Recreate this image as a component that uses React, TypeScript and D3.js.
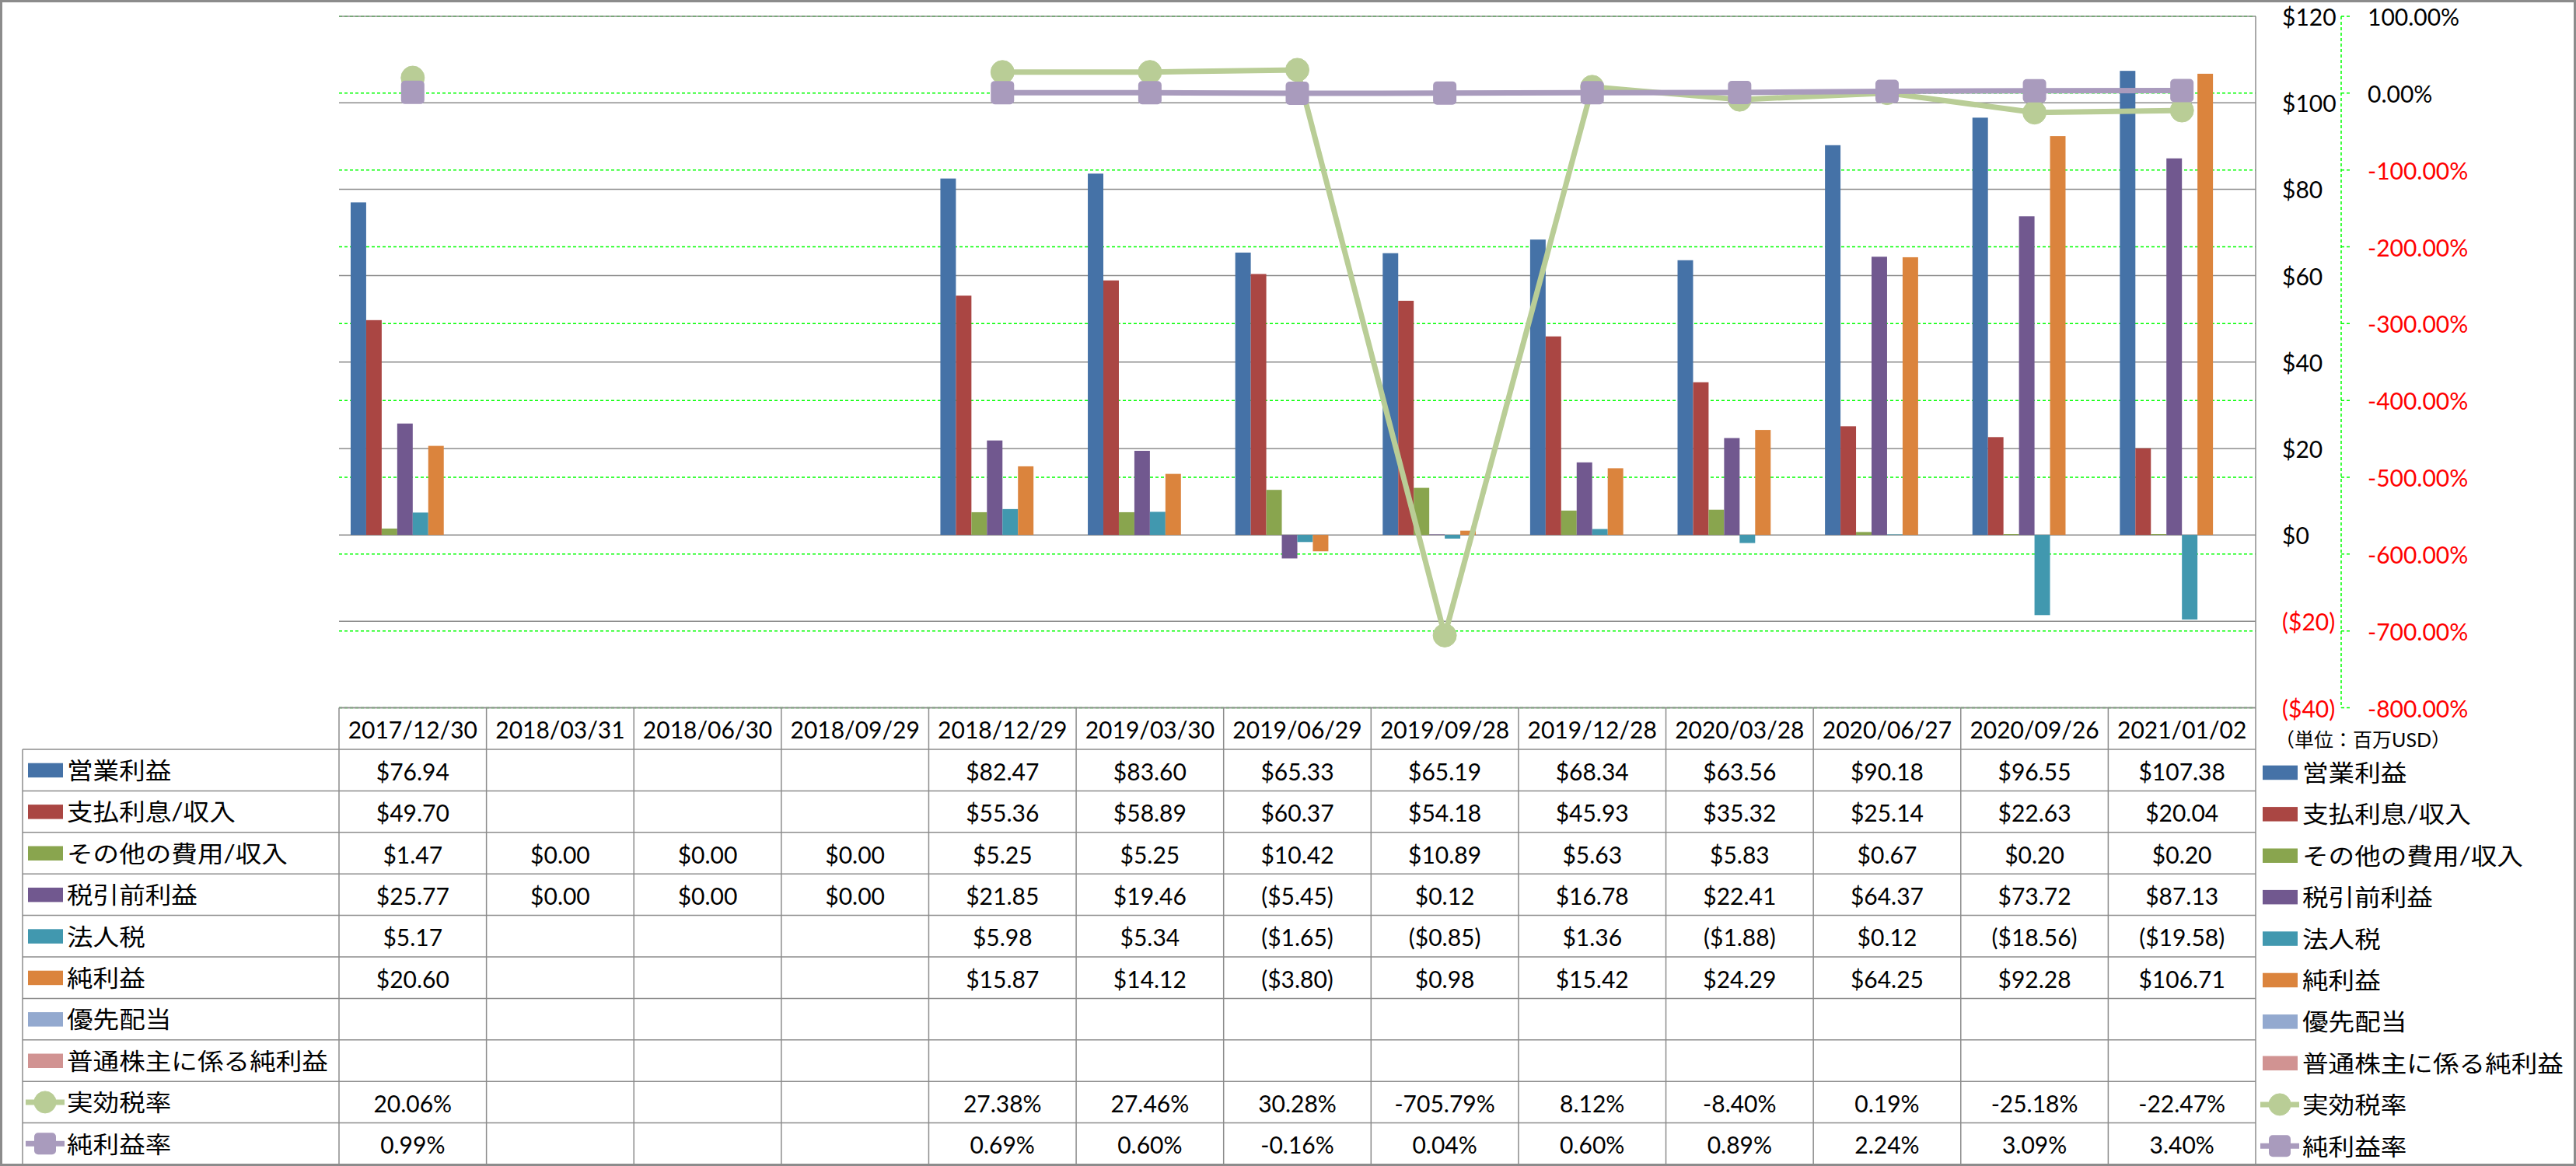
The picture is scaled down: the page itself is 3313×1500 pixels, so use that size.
import React from "react";
import * as d3 from "d3";

const categories = ["2017/12/30","2018/03/31","2018/06/30","2018/09/29","2018/12/29","2019/03/30","2019/06/29","2019/09/28","2019/12/28","2020/03/28","2020/06/27","2020/09/26","2021/01/02"];

const operatingIncome = [76.94, null, null, null, 82.47, 83.60, 65.33, 65.19, 68.34, 63.56, 90.18, 96.55, 107.38];
const interestExpense = [49.70, null, null, null, 55.36, 58.89, 60.37, 54.18, 45.93, 35.32, 25.14, 22.63, 20.04];
const otherExpense = [1.47, 0, 0, 0, 5.25, 5.25, 10.42, 10.89, 5.63, 5.83, 0.67, 0.20, 0.20];
const pretaxIncome = [25.77, 0, 0, 0, 21.85, 19.46, -5.45, 0.12, 16.78, 22.41, 64.37, 73.72, 87.13];
const incomeTax = [5.17, null, null, null, 5.98, 5.34, -1.65, -0.85, 1.36, -1.88, 0.12, -18.56, -19.58];
const netIncome = [20.60, null, null, null, 15.87, 14.12, -3.80, 0.98, 15.42, 24.29, 64.25, 92.28, 106.71];
const preferredDividends = [null, null, null, null, null, null, null, null, null, null, null, null, null];
const netIncomeCommon = [null, null, null, null, null, null, null, null, null, null, null, null, null];
const effectiveTaxRate = [20.06, null, null, null, 27.38, 27.46, 30.28, -705.79, 8.12, -8.40, 0.19, -25.18, -22.47];
const netMargin = [0.99, null, null, null, 0.69, 0.60, -0.16, 0.04, 0.60, 0.89, 2.24, 3.09, 3.40];

const barSeries = [
  { name: "営業利益", color: "#4572A7", values: operatingIncome },
  { name: "支払利息/収入", color: "#AA4643", values: interestExpense },
  { name: "その他の費用/収入", color: "#89A54E", values: otherExpense },
  { name: "税引前利益", color: "#71588F", values: pretaxIncome },
  { name: "法人税", color: "#4198AF", values: incomeTax },
  { name: "純利益", color: "#DB843D", values: netIncome },
  { name: "優先配当", color: "#93A9CF", values: preferredDividends },
  { name: "普通株主に係る純利益", color: "#D19392", values: netIncomeCommon },
];
const lineSeries = [
  { name: "実効税率", color: "#B9CD96", values: effectiveTaxRate, marker: "circle" },
  { name: "純利益率", color: "#A99BBD", values: netMargin, marker: "square" },
];

const leftTicks = [-40, -20, 0, 20, 40, 60, 80, 100, 120];
const rightTicks = [-800, -700, -600, -500, -400, -300, -200, -100, 0, 100];

const W = 3313, H = 1500;
const plotL = 436, plotR = 2901, plotT = 21, plotB = 910.5;
const headerB = 964;
const rowH = 53.4;
const FONT = "Lato, 'Noto Sans CJK JP', sans-serif";
const FS = 30;

const fmtMoney = (v) => (v == null ? "" : v < 0 ? `($${(-v).toFixed(2)})` : `$${v.toFixed(2)}`);
const fmtPct = (v) => (v == null ? "" : `${v.toFixed(2)}%`);

function Marker({ type, cx, cy, size, color }) {
  if (type === "circle") {
    return <circle cx={cx} cy={cy} r={size / 2} fill={color} stroke={color} strokeWidth={1} />;
  }
  return <rect x={cx - size / 2} y={cy - size / 2} width={size} height={size} rx={5} fill={color} />;
}

function LegendKey({ s, x, cy, isLine }) {
  if (!isLine) return <rect x={x + 3} y={cy - 9} width={45} height={18.5} fill={s.color} />;
  return (
    <g>
      <line x1={x} x2={x + 50} y1={cy} y2={cy} stroke={s.color} strokeWidth={7} />
      <Marker type={s.marker} cx={x + 25} cy={cy} size={28} color={s.color} />
    </g>
  );
}

export default function App() {
  const x = d3.scaleBand().domain(categories).range([plotL, plotR]).paddingInner(0).paddingOuter(0);
  const xs = d3.scaleBand().domain(barSeries.map((s) => s.name)).range([0, x.bandwidth()]).paddingInner(0).paddingOuter(0.75);
  const y = d3.scaleLinear().domain([-40, 120]).range([plotB, plotT]);
  const y2 = d3.scaleLinear().domain([-800, 100]).range([plotB, plotT]);

  const allRows = [
    ...barSeries.map((s) => ({ s, isLine: false, fmt: fmtMoney })),
    ...lineSeries.map((s) => ({ s, isLine: true, fmt: fmtPct })),
  ];
  const rowTop = (i) => headerB + i * rowH;
  const tableB = rowTop(allRows.length);

  const line = d3
    .line()
    .defined((d) => d.v != null)
    .x((d) => x(d.c) + x.bandwidth() / 2)
    .y((d) => y2(d.v));

  const gridColor = "#8C8C8C";

  return (
    <svg width={W} height={H} style={{ position: "absolute", left: 0, top: 0, background: "#fff" }} fontFamily={FONT}>
      <rect x={0} y={0} width={W} height={H} fill="#fff" />
      {/* green dashed secondary gridlines */}
      {rightTicks.map((t) => (
        <line key={"g2" + t} x1={plotL} x2={plotR} y1={y2(t)} y2={y2(t)} stroke="#00FF00" strokeWidth={1.5} strokeDasharray="4,3" />
      ))}
      {/* primary gridlines */}
      {leftTicks.map((t) => (
        <line key={"g" + t} x1={plotL} x2={plotR} y1={y(t)} y2={y(t)} stroke={gridColor} strokeWidth={1.5} />
      ))}
      {/* bars */}
      {barSeries.map((s) =>
        s.values.map((v, i) =>
          v == null || v === 0 ? null : (
            <rect
              key={s.name + i}
              x={x(categories[i]) + xs(s.name)}
              width={xs.bandwidth()}
              y={Math.min(y(v), y(0))}
              height={Math.abs(y(v) - y(0))}
              fill={s.color}
            />
          )
        )
      )}
      {/* lines */}
      {lineSeries.map((s) => {
        const data = s.values.map((v, i) => ({ c: categories[i], v }));
        return (
          <g key={s.name}>
            <path d={line(data)} fill="none" stroke={s.color} strokeWidth={7} strokeLinejoin="round" />
            {data.map((d, i) =>
              d.v == null ? null : (
                <Marker key={i} type={s.marker} cx={x(d.c) + x.bandwidth() / 2} cy={y2(d.v)} size={30} color={s.color} />
              )
            )}
          </g>
        );
      })}
      {/* plot right border */}
      <line x1={plotR} x2={plotR} y1={plotT} y2={tableB} stroke={gridColor} strokeWidth={1.5} />
      {/* primary axis labels */}
      {leftTicks.map((t) => (
        <text key={"l" + t} x={2935} y={y(t)} dominantBaseline="central" fontSize={FS} fill={t < 0 ? "#FF0000" : "#000"}>
          {t < 0 ? `($${-t})` : `$${t}`}
        </text>
      ))}
      {/* secondary axis */}
      <line x1={3011} x2={3011} y1={plotT} y2={plotB} stroke="#00FF00" strokeWidth={1.5} strokeDasharray="4,3" />
      {rightTicks.map((t) => (
        <g key={"r" + t}>
          <line x1={3011} x2={3023} y1={y2(t)} y2={y2(t)} stroke="#00FF00" strokeWidth={1.5} strokeDasharray="4,3" />
          <text x={3045} y={y2(t)} dominantBaseline="central" fontSize={FS} fill={t < 0 ? "#FF0000" : "#000"}>
            {`${t.toFixed(2)}%`}
          </text>
        </g>
      ))}
      <text x={2926} y={951} dominantBaseline="central" fontSize={25} fill="#000">（単位：百万USD）</text>

      {/* table */}
      <line x1={plotL} x2={plotR} y1={plotB} y2={plotB} stroke={gridColor} strokeWidth={1.5} />
      {categories.map((c) => (
        <g key={"h" + c}>
          <line x1={x(c)} x2={x(c)} y1={plotB} y2={tableB} stroke={gridColor} strokeWidth={1.5} />
          <text x={x(c) + x.bandwidth() / 2} y={(plotB + headerB) / 2 + 1} textAnchor="middle" dominantBaseline="central" fontSize={FS}>
            {c}
          </text>
        </g>
      ))}
      <line x1={29} x2={29} y1={headerB} y2={tableB} stroke={gridColor} strokeWidth={1.5} />
      {d3.range(allRows.length + 1).map((i) => (
        <line key={"rl" + i} x1={29} x2={plotR} y1={rowTop(i)} y2={rowTop(i)} stroke={gridColor} strokeWidth={1.5} />
      ))}
      {allRows.map((r, i) => {
        const cy = rowTop(i) + rowH / 2;
        return (
          <g key={"row" + i}>
            <LegendKey s={r.s} x={33} cy={cy} isLine={r.isLine} />
            <text transform={`translate(86,${cy}) scale(1.12,1)`} dominantBaseline="central" fontSize={FS}>
              {r.s.name}
            </text>
            {r.s.values.map((v, j) => (
              <text key={j} x={x(categories[j]) + x.bandwidth() / 2} y={cy + 1} textAnchor="middle" dominantBaseline="central" fontSize={FS}>
                {r.fmt(v)}
              </text>
            ))}
            <LegendKey s={r.s} x={2907} cy={cy + 3} isLine={r.isLine} />
            <text transform={`translate(2961,${cy + 3}) scale(1.12,1)`} dominantBaseline="central" fontSize={FS}>
              {r.s.name}
            </text>
          </g>
        );
      })}
      {/* outer border */}
      <rect x={1.5} y={1.5} width={W - 3} height={H - 3} fill="none" stroke="#8C8C8C" strokeWidth={3} />
    </svg>
  );
}
